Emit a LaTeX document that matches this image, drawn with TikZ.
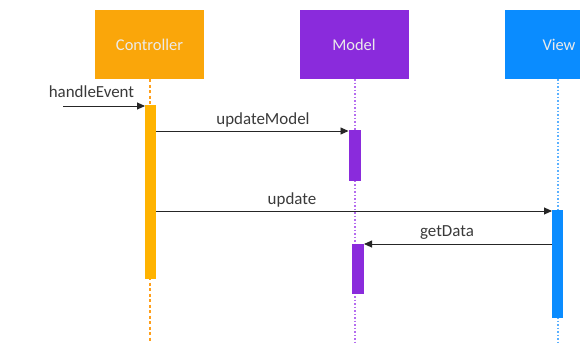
\documentclass[tikz,border=0pt]{standalone}
\usepackage{fontspec}
\setmainfont{Carlito}
\usetikzlibrary{arrows.meta}

\definecolor{ctrlbox}{HTML}{FAA60A}
\definecolor{ctrlbar}{HTML}{FFB300}
\definecolor{ctrlline}{HTML}{FF9F1A}
\definecolor{modelbox}{HTML}{8A2BDC}
\definecolor{modelline}{HTML}{B56CF0}
\definecolor{viewbox}{HTML}{0A8CFF}
\definecolor{viewline}{HTML}{5AB0FF}
\definecolor{msgtext}{HTML}{3A3A3A}

\begin{document}
\begin{tikzpicture}[x=1bp,y=-1bp,
  actor/.style={minimum width=109bp,minimum height=69bp,inner sep=0pt,
    text=white!92!black,font=\fontsize{16.5}{19}\selectfont},
  actbar/.style={minimum width=11bp,inner sep=0pt,outer sep=0pt},
  msg/.style={draw=black!85,line width=0.9bp,-{Triangle[length=8bp,width=7bp]}},
  lbl/.style={text=msgtext,font=\fontsize{17}{20}\selectfont,inner sep=0pt},
  life/.style={line width=1.2bp}
]
\clip (0,0) rectangle (580,344);
\fill[white] (0,0) rectangle (580,344);

% participants
\node[actor,fill=ctrlbox] (ctrl) at (149.5,44.5) {Controller};
\node[actor,fill=modelbox] (model) at (354,44.5) {Model};
\node[actor,fill=viewbox] (view) at (559,44.5) {View};

% lifelines
\coordinate (ctrltop) at (150,79);
\coordinate (ctrlend) at (150,342);
\coordinate (modeltop) at (355,79);
\coordinate (modelend) at (355,342);
\coordinate (viewtop) at (558,79);
\coordinate (viewend) at (558,342);
\draw[life,ctrlline,dash pattern=on 3bp off 2.5bp] (ctrltop) -- (ctrlend);
\draw[life,modelline,dash pattern=on 1.5bp off 2bp] (modeltop) -- (modelend);
\draw[life,viewline,dash pattern=on 1.5bp off 2bp] (viewtop) -- (viewend);

% activation bars
\node[actbar,fill=ctrlbar,minimum height=174bp] (cbar) at (150.5,192) {};
\node[actbar,fill=modelbox,minimum width=12bp,minimum height=51bp] (mbarA) at (354.5,155.5) {};
\node[actbar,fill=modelbox,minimum width=12bp,minimum height=50bp] (mbarB) at (358,269) {};
\node[actbar,fill=viewbox,minimum height=108bp] (vbar) at (557.5,264) {};

% messages
\coordinate (caller) at (63,106);
\draw[msg] (caller) -- (cbar.west |- 0,106);
\draw[msg] (cbar.east |- 0,131) -- (mbarA.west |- 0,131);
\draw[msg] (cbar.east |- 0,211) -- (vbar.west |- 0,211);
\draw[msg] (vbar.west |- 0,244) -- (mbarB.east |- 0,244);

% message labels
\node[lbl] (lhandle) at (91.5,92) {handleEvent};
\node[lbl] (lupdmodel) at (263,120) {updateModel};
\node[lbl] (lupdate) at (292,200) {update};
\node[lbl] (lgetdata) at (447,233) {getData};
\end{tikzpicture}
\end{document}
